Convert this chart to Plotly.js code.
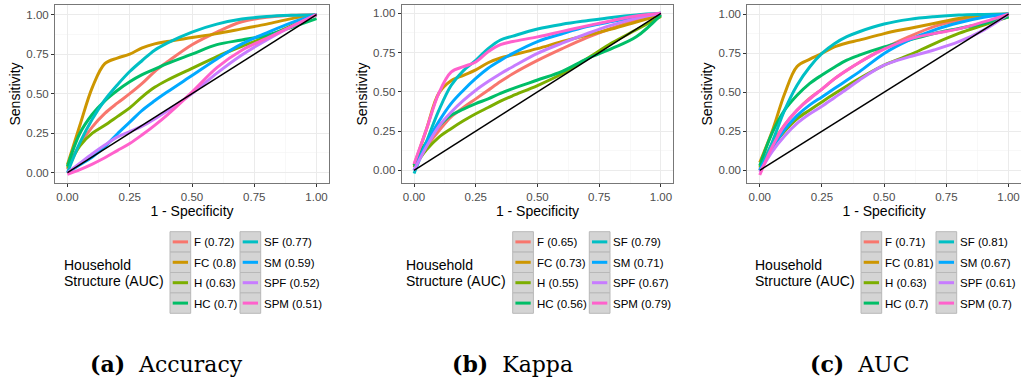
<!DOCTYPE html>
<html>
<head>
<meta charset="utf-8">
<script src="https://cdn.plot.ly/plotly-3.0.1.min.js"></script>
<style>html,body{margin:0;padding:0;background:#fff;}#chart{width:1021px;height:385px;}</style>
</head>
<body>
<div id="chart"></div>
<script>
// ---- data ----
const groups = ['F', 'FC', 'H', 'HC', 'SF', 'SM', 'SPF', 'SPM'];
const colors = ['#F8766D', '#CD9600', '#7CAE00', '#00BE67', '#00BFC4', '#00A9FF', '#C77CFF', '#FF61CC'];
const fpr = [0, 0.05, 0.1, 0.15, 0.2, 0.25, 0.3, 0.35, 0.4, 0.5, 0.6, 0.7, 0.8, 0.9, 1.0];
const diagX = [0, 1];
const diagY = [0, 1];

const aucAccuracy = [0.72, 0.8, 0.63, 0.7, 0.77, 0.59, 0.52, 0.51];
const aucKappa = [0.65, 0.73, 0.55, 0.56, 0.79, 0.71, 0.67, 0.79];
const aucAUC = [0.71, 0.81, 0.63, 0.7, 0.81, 0.67, 0.61, 0.7];

// (a) Accuracy
const accF   = [0.02, 0.18, 0.29, 0.375, 0.44, 0.50, 0.565, 0.64, 0.70, 0.81, 0.89, 0.955, 0.983, 0.996, 1.0];
const accFC  = [0.05, 0.30, 0.54, 0.69, 0.725, 0.75, 0.79, 0.815, 0.83, 0.855, 0.88, 0.91, 0.94, 0.975, 1.0];
const accH   = [0.03, 0.17, 0.25, 0.30, 0.355, 0.41, 0.48, 0.54, 0.585, 0.66, 0.735, 0.80, 0.86, 0.93, 1.0];
const accHC  = [0.04, 0.25, 0.37, 0.455, 0.52, 0.575, 0.62, 0.655, 0.69, 0.75, 0.81, 0.84, 0.87, 0.92, 0.975];
const accSF  = [0.0, 0.19, 0.34, 0.46, 0.555, 0.64, 0.71, 0.775, 0.82, 0.89, 0.94, 0.972, 0.988, 0.996, 1.0];
const accSM  = [0.0, 0.05, 0.10, 0.165, 0.245, 0.32, 0.395, 0.455, 0.51, 0.615, 0.72, 0.815, 0.885, 0.95, 1.0];
const accSPF = [0.0, 0.06, 0.12, 0.175, 0.225, 0.26, 0.295, 0.34, 0.39, 0.50, 0.63, 0.745, 0.84, 0.925, 1.0];
const accSPM = [-0.01, 0.02, 0.055, 0.095, 0.14, 0.185, 0.24, 0.30, 0.365, 0.51, 0.665, 0.775, 0.85, 0.925, 1.0];

// (b) Kappa
const kapF   = [0.02, 0.15, 0.25, 0.34, 0.40, 0.455, 0.51, 0.565, 0.615, 0.70, 0.775, 0.845, 0.905, 0.957, 1.0];
const kapFC  = [0.03, 0.26, 0.49, 0.57, 0.605, 0.64, 0.685, 0.715, 0.735, 0.775, 0.82, 0.86, 0.90, 0.945, 0.99];
const kapH   = [0.02, 0.13, 0.21, 0.265, 0.315, 0.36, 0.40, 0.44, 0.475, 0.54, 0.615, 0.71, 0.81, 0.895, 0.98];
const kapHC  = [0.03, 0.18, 0.28, 0.35, 0.39, 0.425, 0.455, 0.49, 0.52, 0.575, 0.63, 0.71, 0.775, 0.85, 0.99];
const kapSF  = [-0.02, 0.18, 0.38, 0.54, 0.635, 0.70, 0.775, 0.83, 0.855, 0.90, 0.93, 0.953, 0.974, 0.99, 1.0];
const kapSM  = [0.0, 0.17, 0.31, 0.425, 0.51, 0.585, 0.65, 0.70, 0.745, 0.82, 0.87, 0.915, 0.947, 0.975, 1.0];
const kapSPF = [0.0, 0.15, 0.28, 0.37, 0.445, 0.51, 0.565, 0.615, 0.66, 0.745, 0.81, 0.87, 0.925, 0.968, 1.0];
const kapSPM = [0.04, 0.26, 0.49, 0.625, 0.66, 0.69, 0.755, 0.80, 0.82, 0.85, 0.885, 0.92, 0.953, 0.983, 1.0];

// (c) AUC
const aucF   = [0.01, 0.17, 0.29, 0.385, 0.46, 0.52, 0.585, 0.64, 0.69, 0.78, 0.855, 0.92, 0.96, 0.987, 1.0];
const aucFC  = [0.05, 0.25, 0.49, 0.665, 0.71, 0.748, 0.79, 0.815, 0.833, 0.875, 0.908, 0.94, 0.972, 0.994, 1.0];
const aucH   = [0.02, 0.15, 0.25, 0.33, 0.385, 0.438, 0.49, 0.54, 0.587, 0.673, 0.737, 0.81, 0.876, 0.93, 0.983];
const aucHC  = [0.03, 0.24, 0.385, 0.48, 0.555, 0.61, 0.66, 0.705, 0.737, 0.79, 0.833, 0.876, 0.908, 0.94, 0.983];
const aucSF  = [0.0, 0.18, 0.385, 0.545, 0.66, 0.748, 0.81, 0.855, 0.887, 0.936, 0.966, 0.983, 0.994, 0.998, 1.0];
const aucSM  = [0.0, 0.14, 0.26, 0.35, 0.417, 0.47, 0.523, 0.577, 0.63, 0.748, 0.833, 0.897, 0.944, 0.979, 1.0];
const aucSPF = [-0.01, 0.12, 0.22, 0.30, 0.36, 0.41, 0.465, 0.52, 0.577, 0.673, 0.726, 0.77, 0.823, 0.897, 1.0];
const aucSPM = [-0.03, 0.15, 0.29, 0.385, 0.455, 0.52, 0.585, 0.64, 0.69, 0.775, 0.84, 0.875, 0.905, 0.95, 1.0];

const captionLetters = ['(a)', '(b)', '(c)'];
const captionWords = ['Accuracy', 'Kappa', 'AUC'];
const legendTitle1 = 'Household';
const legendTitle2 = 'Structure (AUC)';
const xTitle = '1 - Specificity';
const yTitle = 'Sensitivity';

// ---- build ----
const W = 1021, H = 385;
const px = v => v / W;
const py = v => 1 - v / H;

const panels = [
  { series: [accF, accFC, accH, accHC, accSF, accSM, accSPF, accSPM], auc: aucAccuracy,
    left: 55, right: 329, yr: [-0.065, 1.061], tx: 61.7, k1: 170, k2: 240, cap: 166 },
  { series: [kapF, kapFC, kapH, kapHC, kapSF, kapSM, kapSPF, kapSPM], auc: aucKappa,
    left: 401.7, right: 673.3, yr: [-0.081, 1.053], tx: 404, k1: 512.7, k2: 589.3, cap: 512.5 },
  { series: [aucF, aucFC, aucH, aucHC, aucSF, aucSM, aucSPF, aucSPM], auc: aucAUC,
    left: 747.3, right: 1021, yr: [-0.081, 1.058], tx: 752.7, k1: 861, k2: 936, cap: 859 }
];

const FONT = "'Liberation Sans', Arial, Helvetica, sans-serif";
const traces = [];
const layout = {
  width: W, height: H,
  margin: { l: 0, r: 0, t: 0, b: 0 },
  paper_bgcolor: '#fff', plot_bgcolor: '#fff',
  showlegend: false,
  font: { family: FONT, color: '#000' },
  shapes: [], annotations: []
};

const plotTop = 5, plotBottom = 183;
const rowTop = 231.7, rowH = 20.4, keyW = 20.7;

panels.forEach((p, i) => {
  const sfx = i === 0 ? '' : String(i + 1);
  const xa = 'x' + sfx, ya = 'y' + sfx;
  p.series.forEach((ys, j) => {
    traces.push({
      x: fpr, y: ys, xaxis: xa, yaxis: ya, type: 'scatter', mode: 'lines',
      line: { color: colors[j], width: 3, shape: 'spline', smoothing: 1 },
      hoverinfo: 'skip'
    });
  });
  traces.push({
    x: diagX, y: diagY, xaxis: xa, yaxis: ya, type: 'scatter', mode: 'lines',
    line: { color: '#000', width: 1.5 }, hoverinfo: 'skip'
  });

  const common = {
    ticks: 'outside', ticklen: 3, tickwidth: 1, tickcolor: '#333',
    tickfont: { family: FONT, size: 11.5, color: '#4d4d4d' },
    tick0: 0, dtick: 0.25, tickformat: '.2f',
    showgrid: true, gridcolor: '#ebebeb', gridwidth: 1,
    minor: { showgrid: true, gridcolor: '#f4f4f4', gridwidth: 0.6, tick0: 0, dtick: 0.125 },
    zeroline: false, showline: true, mirror: true, linecolor: '#777', linewidth: 1,
    fixedrange: true
  };
  layout['xaxis' + sfx] = Object.assign({}, common, {
    domain: [px(p.left), Math.min(1, px(p.right))], anchor: ya, range: [-0.05, 1.05],
    title: { text: xTitle, font: { family: FONT, size: 14, color: '#000' }, standoff: 0 }
  });
  layout['yaxis' + sfx] = Object.assign({}, common, {
    domain: [py(plotBottom), py(plotTop)], anchor: xa, range: p.yr,
    title: { text: yTitle, font: { family: FONT, size: 14, color: '#000' }, standoff: 2 }
  });

  // legend (hand built, ggplot style)
  layout.annotations.push({
    xref: 'paper', yref: 'paper', x: px(p.tx), y: py(265), xanchor: 'left', yanchor: 'middle',
    text: legendTitle1, showarrow: false, font: { family: FONT, size: 14, color: '#000' }
  });
  layout.annotations.push({
    xref: 'paper', yref: 'paper', x: px(p.tx), y: py(281), xanchor: 'left', yanchor: 'middle',
    text: legendTitle2, showarrow: false, font: { family: FONT, size: 14, color: '#000' }
  });
  groups.forEach((g, j) => {
    const col = j < 4 ? 0 : 1;
    const row = j % 4;
    const kx = col === 0 ? p.k1 : p.k2;
    const top = rowTop + row * rowH;
    layout.shapes.push({
      type: 'rect', xref: 'paper', yref: 'paper',
      x0: px(kx), x1: px(kx + keyW), y0: py(top + rowH), y1: py(top),
      fillcolor: '#d4d4d4', line: { color: '#b8b8b8', width: 1 }
    });
    layout.shapes.push({
      type: 'line', xref: 'paper', yref: 'paper',
      x0: px(kx + 2.7), x1: px(kx + 18), y0: py(top + rowH / 2), y1: py(top + rowH / 2),
      line: { color: colors[j], width: 3 }
    });
    layout.annotations.push({
      xref: 'paper', yref: 'paper', x: px(kx + 22), y: py(top + rowH / 2 + 0.5),
      xanchor: 'left', yanchor: 'middle', showarrow: false,
      text: g + ' (' + p.auc[j] + ')', font: { family: FONT, size: 11.5, color: '#000' }
    });
  });

  // caption
  layout.annotations.push({
    xref: 'paper', yref: 'paper', x: px(p.cap), y: py(364), xanchor: 'center', yanchor: 'middle',
    showarrow: false,
    text: '<b>' + captionLetters[i] + '</b>\u00a0\u00a0' + captionWords[i],
    font: { family: 'DejaVu Serif, serif', size: 22, color: '#000' }
  });
});

Plotly.newPlot('chart', traces, layout, { displayModeBar: false, staticPlot: true });
</script>
</body>
</html>
